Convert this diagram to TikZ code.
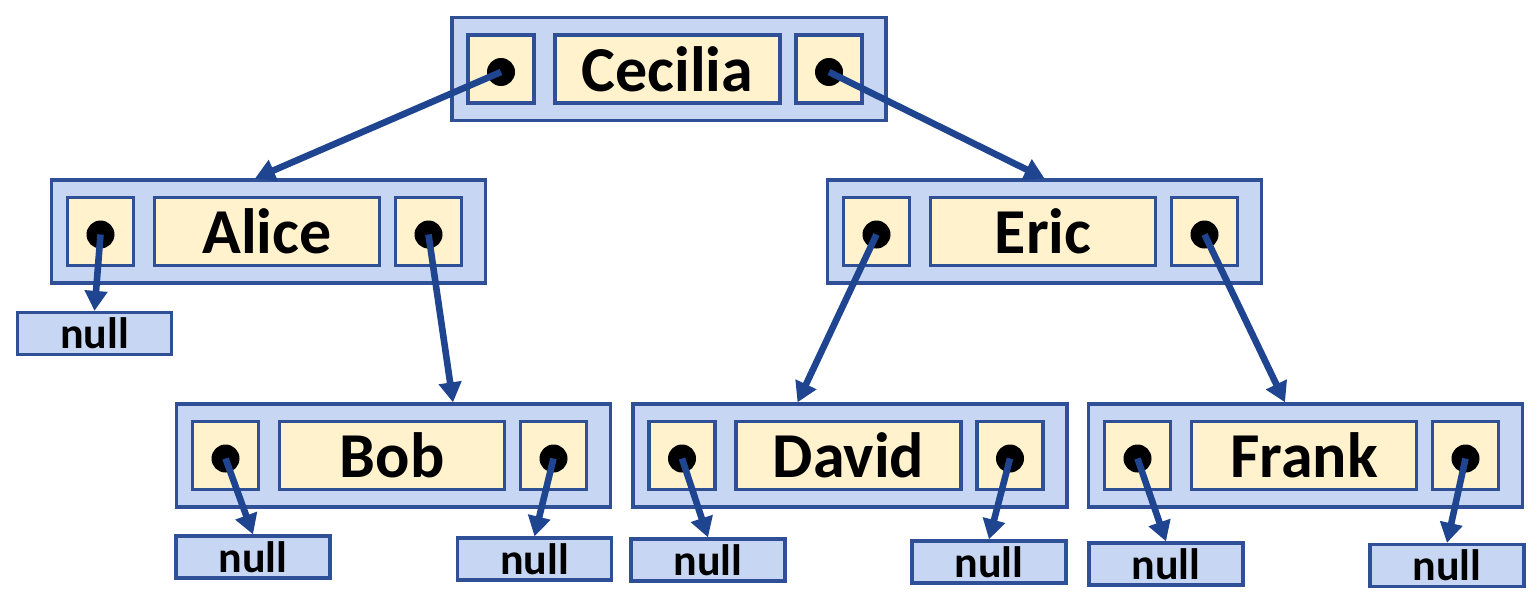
\documentclass[tikz,border=0pt]{standalone}
\usepackage{fontspec}
\setmainfont{Carlito}
\usetikzlibrary{arrows.meta,calc}
\definecolor{outerfill}{HTML}{C7D6F2}
\definecolor{edgeblue}{HTML}{2F4F96}
\definecolor{arrowblue}{HTML}{1F4591}
\definecolor{cream}{HTML}{FFF2CC}
\tikzset{
 outerbox/.style={draw=edgeblue, fill=outerfill, line width=1.6pt, minimum width=217pt, minimum height=51.5pt, inner sep=0pt},
 ptrbox/.style={draw=edgeblue, fill=cream, line width=1.6pt, minimum width=33pt, minimum height=34pt, inner sep=0pt},
 namebox/.style={draw=edgeblue, fill=cream, line width=1.6pt, minimum width=112.5pt, minimum height=34pt, inner sep=0pt, font=\fontsize{32}{36}\selectfont\bfseries},
 dotmark/.style={circle, fill=black, minimum size=14pt, inner sep=0pt},
 nullbox/.style={draw=edgeblue, fill=outerfill, line width=1.6pt, minimum width=77pt, minimum height=21pt, inner sep=0pt, font=\fontsize{22}{24}\selectfont\bfseries},
 link/.style={draw=arrowblue, line width=3.3pt, -{Triangle[length=10pt,width=11pt]}},
}
\newcommand\mkbstnode[4]{%
 \node[outerbox] (#1) at (#2,#3) {};
 \node[ptrbox] (#1-lb) at ($(#1.center)+(-168,0)$) {};
 \node[namebox] (#1-name) at ($(#1.center)+(-1.5,0)$) {#4};
 \node[ptrbox] (#1-rb) at ($(#1.center)+(160,0)$) {};
 \node[dotmark] (#1-l) at ($(#1-lb.center)+(0,3)$) {};
 \node[dotmark] (#1-r) at ($(#1-rb.center)+(0,3)$) {};
}
\begin{document}
\begin{tikzpicture}[x=0.5pt,y=-0.5pt]
\useasboundingbox (0,0) rectangle (1539,605);
\mkbstnode{cecilia}{669}{69}{Cecilia}
\mkbstnode{alice}{268.5}{231.5}{Alice}
\mkbstnode{eric}{1044.5}{231.5}{Eric}
\mkbstnode{bob}{393.5}{455.5}{Bob}
\mkbstnode{david}{850}{455.5}{David}
\mkbstnode{frank}{1305.5}{455.5}{Frank}
\node[nullbox] (alice-null) at (94.5,333.5) {null};
\node[nullbox] (bob-nl) at (253,557) {null};
\node[nullbox] (bob-nr) at (534.5,559) {null};
\node[nullbox] (david-nl) at (708,560) {null};
\node[nullbox] (david-nr) at (989,562) {null};
\node[nullbox] (frank-nl) at (1166,564) {null};
\node[nullbox] (frank-nr) at (1447,565.5) {null};
\draw[link] (cecilia-l.center) -- ([xshift=-6.75pt]alice.north);
\draw[link] (cecilia-r.center) -- (eric.north);
\draw[link] (alice-r.center) -- ([xshift=29.75pt]bob.north);
\draw[link] (eric-l.center) -- ([xshift=-26.25pt]david.north);
\draw[link] (eric-r.center) -- ([xshift=-10.25pt]frank.north);
\draw[link] (alice-l.center) -- (alice-null.north);
\draw[link] (bob-l.center) -- (bob-nl.north);
\draw[link] (bob-r.center) -- (bob-nr.north);
\draw[link] (david-l.center) -- (david-nl.north);
\draw[link] (david-r.center) -- (david-nr.north);
\draw[link] (frank-l.center) -- (frank-nl.north);
\draw[link] (frank-r.center) -- (frank-nr.north);
\end{tikzpicture}
\end{document}
